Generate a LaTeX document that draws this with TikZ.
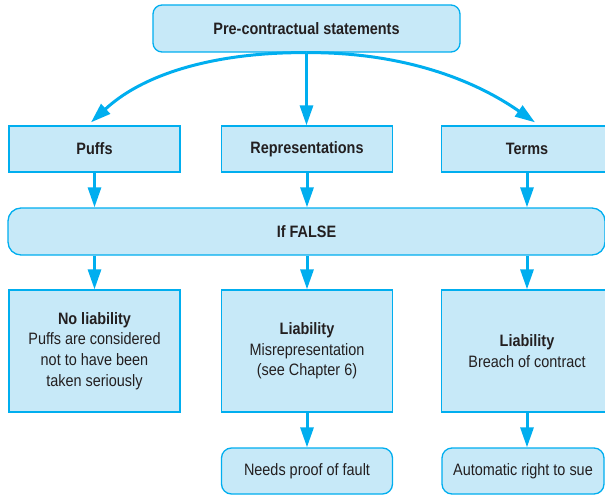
\documentclass[tikz,border=0pt]{standalone}
\usepackage{fontspec}
\setmainfont[FakeStretch=0.875]{Liberation Sans}
\usetikzlibrary{arrows.meta,calc}
\definecolor{cyanline}{HTML}{00AEEF}
\definecolor{boxfill}{HTML}{C7E9F8}
\definecolor{ink}{HTML}{231F20}

\begin{document}
\begin{tikzpicture}[x=1pt,y=-1pt,
  box/.style={draw=cyanline, fill=boxfill, line width=1.3pt, text=ink,
    minimum width=171pt, minimum height=46pt, inner sep=0pt, align=center,
    font=\fontsize{16.5}{20.7}\selectfont},
  roundbox/.style={box, rounded corners=10pt},
  tallbox/.style={box, minimum height=122pt},
  arr/.style={draw=cyanline, line width=3pt, -{Triangle[length=20pt,width=13pt]}},
]
\useasboundingbox (0,0) rectangle (605,495);

% top level
\node[roundbox, rounded corners=9pt, minimum width=307pt, minimum height=47pt]
  (top) at (306.5,28.5) {\bfseries Pre-contractual statements};

% kinds of statement
\node[box] (puffs) at (94.5,149) {\bfseries Puffs};
\node[box] (reps)  at (307,149)  {\bfseries Representations};
\node[box] (terms) at (527,149)  {\bfseries Terms};

% condition bar
\node[roundbox, rounded corners=13pt, minimum width=597pt, minimum height=47pt]
  (false) at (306.5,231.5) {\bfseries If FALSE};

% consequences
\node[tallbox] (noliab) at (94.5,351)
  {\textbf{No liability}\\Puffs are considered\\not to have been\\taken seriously};
\node[tallbox] (misrep) at (307,351)
  {\textbf{Liability}\\Misrepresentation\\(see Chapter 6)};
\node[tallbox] (breach) at (527,351)
  {\textbf{Liability}\\Breach of contract};

% remedies
\node[roundbox] (fault) at (307,471) {Needs proof of fault};
\node[roundbox, minimum width=162pt] (sue) at (523,471) {Automatic right to sue};

% curved branches from the top box
\coordinate (puffsin) at ($(puffs.north)+(-3.5,-3)$);
\coordinate (termsin) at ($(terms.north)+(8,-3)$);
\draw[arr] (top.south) .. controls (230,52) and (150,68) .. (puffsin);
\draw[arr] (top.south) .. controls (382,52) and (460,70) .. (termsin);
\draw[arr] (top.south) -- (top.south |- reps.north);

% into the condition bar
\foreach \n in {puffs,reps,terms}
  \draw[arr] (\n.south) -- (\n.south |- false.north);

% out of the condition bar
\draw[arr] (noliab.north |- false.south) -- (noliab.north);
\draw[arr] (misrep.north |- false.south) -- (misrep.north);
\draw[arr] (breach.north |- false.south) -- (breach.north);

% to the remedies
\draw[arr] (misrep.south) -- (misrep.south |- fault.north);
\draw[arr] (breach.south) -- (breach.south |- sue.north);
\end{tikzpicture}
\end{document}
